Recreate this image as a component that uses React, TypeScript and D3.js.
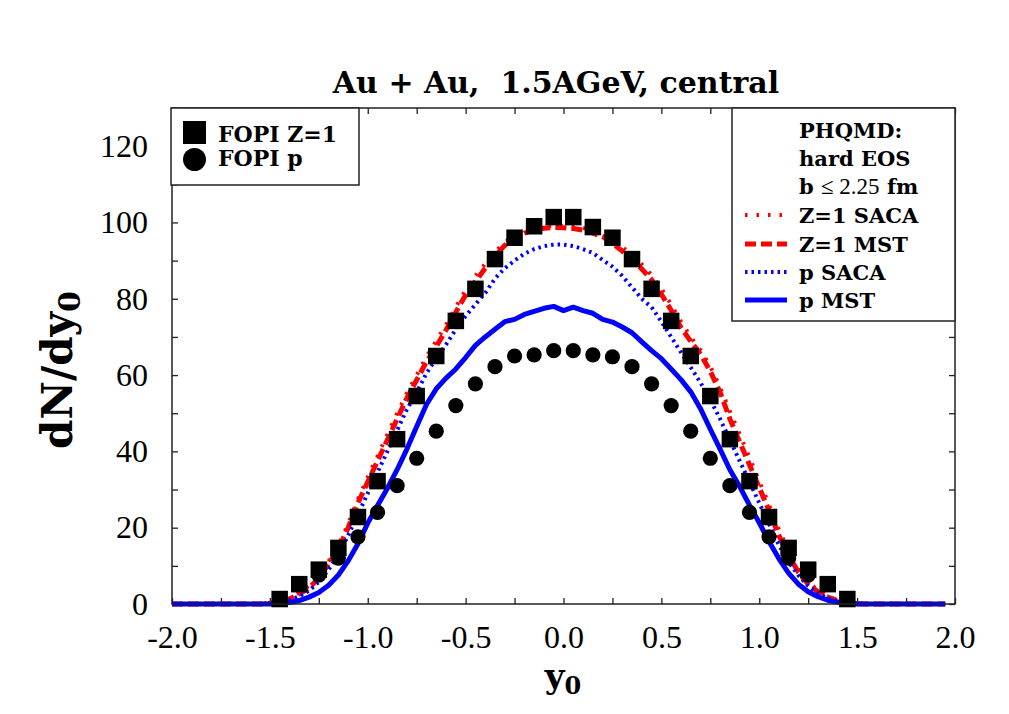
import React, { useEffect, useRef } from 'react';
import * as d3 from 'd3';

// rapidity grid of the PHQMD curves
const curveY0 = [
    -2.0, -1.55, -1.5, -1.45, -1.4, -1.35, -1.3, -1.25, -1.2, -1.15, -1.1, -1.05, -1.0,
    -0.95, -0.9, -0.85, -0.8, -0.75, -0.7, -0.65, -0.6, -0.55, -0.5, -0.45, -0.4, -0.35,
    -0.3, -0.25, -0.2, -0.15, -0.1, -0.05, 0.0, 0.05, 0.1, 0.15, 0.2, 0.25, 0.3, 0.35,
    0.4, 0.45, 0.5, 0.55, 0.6, 0.65, 0.7, 0.75, 0.8, 0.85, 0.9, 0.95, 1.0, 1.05, 1.1,
    1.15, 1.2, 1.25, 1.3, 1.35, 1.4, 1.45, 1.5, 1.55, 1.95
];

const z1Saca = [
    0, 0.1, 0.3, 0.8, 1.6, 3.0, 4.8, 7.5, 11.2, 15.5, 21.0, 27.5, 33.2,
    38.8, 44.5, 50.0, 55.3, 60.0, 64.8, 69.0, 73.2, 77.8, 82.3, 86.0, 89.2, 92.2,
    94.8, 96.5, 97.8, 98.6, 99.0, 99.2, 99.1, 99.0, 98.6, 97.9, 97.0, 95.4, 93.6, 91.4,
    89.0, 86.2, 82.6, 78.5, 74.0, 70.0, 66.5, 62.3, 56.8, 50.5, 44.5, 38.4, 32.2, 26.0, 19.5,
    14.0, 9.2, 5.8, 3.6, 2.0, 1.0, 0.5, 0.2, 0.1, 0
];

const z1Mst = [
    0, 0, 0.2, 0.6, 1.3, 2.6, 4.2, 6.8, 10.5, 14.5, 20.0, 26.5, 32.0,
    37.5, 43.0, 48.5, 54.0, 58.7, 63.5, 67.5, 71.8, 76.5, 81.0, 84.5, 88.0, 91.2,
    94.0, 95.8, 97.2, 98.0, 98.5, 98.7, 98.6, 98.4, 98.0, 97.2, 96.3, 94.5, 92.5, 90.3,
    87.8, 85.0, 81.2, 77.0, 72.5, 68.8, 65.5, 61.0, 55.5, 48.5, 42.5, 36.5, 30.5, 24.5, 18.0,
    12.8, 8.3, 5.2, 3.2, 1.8, 0.9, 0.4, 0.1, 0, 0
];

const pSaca = [
    0, 0, 0.1, 0.4, 1.0, 2.0, 3.5, 5.8, 9.0, 13.0, 18.0, 23.5, 29.0,
    34.5, 40.0, 45.5, 51.0, 55.5, 60.5, 64.3, 68.0, 72.0, 75.5, 78.5, 81.5, 85.3,
    88.0, 90.0, 91.8, 93.0, 93.8, 94.2, 94.2, 93.8, 93.0, 92.0, 90.2, 88.4, 86.0, 83.0,
    80.0, 77.8, 74.0, 70.0, 66.0, 62.0, 58.0, 53.5, 48.5, 43.0, 37.5, 32.0, 26.5, 21.0, 15.5,
    11.0, 7.5, 4.8, 2.8, 1.5, 0.7, 0.3, 0.1, 0, 0
];

const pMst = [
    0, 0, 0, 0.1, 0.4, 0.9, 1.8, 3.0, 4.9, 7.6, 11.3, 15.8, 21.2,
    25.8, 30.3, 35.2, 40.6, 46.5, 52.3, 56.4, 59.2, 61.6, 64.6, 67.8, 70.0, 72.0,
    74.0, 74.6, 75.9, 76.7, 77.5, 78.0, 76.9, 77.8, 76.9, 76.2, 74.6, 73.9, 72.6, 71.1,
    68.7, 66.4, 64.3, 61.6, 58.8, 55.6, 51.2, 45.8, 40.6, 35.2, 30.8, 25.9, 21.3, 16.4, 11.9,
    8.1, 5.2, 3.2, 1.9, 1.0, 0.5, 0.2, 0, 0, 0
];

// FOPI data
const fopiZ1Y0 = [
    -1.45, -1.35, -1.25, -1.15, -1.05, -0.95, -0.85, -0.75, -0.65, -0.55, -0.45, -0.35, -0.25, -0.15, -0.05,
    0.05, 0.15, 0.25, 0.35, 0.45, 0.55, 0.65, 0.75, 0.85, 0.95, 1.05, 1.15, 1.25, 1.35, 1.45
];
const fopiZ1 = [
    1.3, 5.2, 9.0, 14.7, 22.8, 32.2, 43.2, 54.5, 65.0, 74.2, 82.6, 90.4, 96.0, 99.0, 101.4,
    101.4, 98.8, 96.0, 90.4, 82.6, 74.2, 65.0, 54.5, 43.2, 32.2, 22.8, 14.7, 9.0, 5.2, 1.3
];

const fopiPY0 = [
    -1.25, -1.15, -1.05, -0.95, -0.85, -0.75, -0.65, -0.55, -0.45, -0.35, -0.25, -0.15, -0.05,
    0.05, 0.15, 0.25, 0.35, 0.45, 0.55, 0.65, 0.75, 0.85, 0.95, 1.05, 1.15, 1.25
];
const fopiP = [
    7.6, 12.0, 17.6, 24.0, 31.0, 38.2, 45.3, 52.0, 57.7, 62.2, 65.0, 65.3, 66.4,
    66.4, 65.3, 64.8, 62.2, 57.7, 52.0, 45.3, 38.2, 31.0, 24.0, 17.6, 12.0, 7.6
];

const yTickLabels = [0, 20, 40, 60, 80, 100, 120];

const curveStyles = [
    { name: 'Z=1 SACA', values: z1Saca, color: '#ff0000', width: 4, dash: '2.5 9' },
    { name: 'Z=1 MST', values: z1Mst, color: '#ff0000', width: 5, dash: '11 5' },
    { name: 'p SACA', values: pSaca, color: '#0000ff', width: 4, dash: '2.5 4' },
    { name: 'p MST', values: pMst, color: '#0000ff', width: 5, dash: null }
];

const WIDTH = 1009;
const HEIGHT = 714;
const SERIF = "'Liberation Serif', 'DejaVu Serif', serif";
const BOLD = "'DejaVu Serif', serif";

const App = () => {
    const svgRef = useRef<SVGSVGElement>(null);

    useEffect(() => {
        const svg = d3.select(svgRef.current);
        svg.selectAll('*').remove();

        const left = 172, right = 955, top = 108, bottom = 604;

        const x = d3.scaleLinear().domain([-2, 2]).range([left, right]);
        const y = d3.scaleLinear().domain([0, 130]).range([bottom, top]);

        svg.append('rect').attr('width', WIDTH).attr('height', HEIGHT).attr('fill', '#fff');

        // ticks on all four sides, pointing inward
        const xMinor = d3.range(-2, 2.001, 0.25);
        const yMinor = d3.range(0, 130.001, 10);

        const bottomAxis = svg.append('g')
            .attr('transform', `translate(0,${bottom})`)
            .call(d3.axisBottom(x).tickValues(xMinor).tickSize(-6).tickPadding(21)
                .tickFormat((d: any) => (Math.abs((d * 2) % 1) < 1e-9 ? (+d).toFixed(1) : '')));
        svg.append('g')
            .attr('transform', `translate(0,${top})`)
            .call(d3.axisTop(x).tickValues(xMinor).tickSize(-6).tickFormat(() => ''));
        const leftAxis = svg.append('g')
            .attr('transform', `translate(${left},0)`)
            .call(d3.axisLeft(y).tickValues(yMinor).tickSize(-6).tickPadding(24)
                .tickFormat((d: any) => (yTickLabels.includes(+d) ? String(d) : '')));
        svg.append('g')
            .attr('transform', `translate(${right},0)`)
            .call(d3.axisRight(y).tickValues(yMinor).tickSize(-6).tickFormat(() => ''));

        svg.selectAll('.domain').remove();
        svg.selectAll('.tick line').attr('stroke', '#222').attr('stroke-width', 1.3);
        [bottomAxis, leftAxis].forEach(a => a.selectAll('text')
            .style('font-family', SERIF).style('font-size', '32px').attr('fill', '#000'));

        // curves
        const line = d3.line<number>()
            .x((_, i) => x(curveY0[i]))
            .y(d => y(d));

        curveStyles.forEach(c => {
            svg.append('path')
                .datum(c.values)
                .attr('d', line)
                .attr('fill', 'none')
                .attr('stroke', c.color)
                .attr('stroke-width', c.width)
                .attr('stroke-dasharray', c.dash)
                .attr('stroke-linejoin', 'round');
        });

        // FOPI markers
        const sq = 16.5;
        svg.append('g').selectAll('rect')
            .data(fopiZ1)
            .join('rect')
            .attr('x', (_, i) => x(fopiZ1Y0[i]) - sq / 2)
            .attr('y', d => y(d) - sq / 2)
            .attr('width', sq)
            .attr('height', sq)
            .attr('fill', '#000');

        svg.append('g').selectAll('circle')
            .data(fopiP)
            .join('circle')
            .attr('cx', (_, i) => x(fopiPY0[i]))
            .attr('cy', d => y(d))
            .attr('r', 7.6)
            .attr('fill', '#000');

        // frame
        svg.append('rect')
            .attr('x', left).attr('y', top)
            .attr('width', right - left).attr('height', bottom - top)
            .attr('fill', 'none').attr('stroke', '#222').attr('stroke-width', 1.5);

        // left legend
        const lg = svg.append('g');
        lg.append('rect')
            .attr('x', 171).attr('y', top).attr('width', 188).attr('height', 77)
            .attr('fill', '#fff').attr('stroke', '#222').attr('stroke-width', 1.5);
        lg.append('rect').attr('x', 183).attr('y', 121).attr('width', 23).attr('height', 23).attr('fill', '#000');
        lg.append('circle').attr('cx', 194.5).attr('cy', 159.5).attr('r', 11.5).attr('fill', '#000');
        [['FOPI Z=1', 142], ['FOPI p', 166]].forEach(([t, yy]) => {
            lg.append('text')
                .attr('x', 218).attr('y', yy)
                .style('font-family', BOLD).style('font-weight', 'bold').style('font-size', '22px')
                .text(t as string);
        });

        // right legend
        const rg = svg.append('g');
        rg.append('rect')
            .attr('x', 732).attr('y', top).attr('width', right - 732).attr('height', 213)
            .attr('fill', '#fff').attr('stroke', '#222').attr('stroke-width', 1.5);
        const tx = 799;
        const bold = (sel: any) => sel.style('font-family', BOLD).style('font-weight', 'bold').style('font-size', '21px');
        bold(rg.append('text').attr('x', tx).attr('y', 138)).text('PHQMD:');
        bold(rg.append('text').attr('x', tx).attr('y', 166)).text('hard EOS');
        const bt = bold(rg.append('text').attr('x', tx).attr('y', 194));
        bt.append('tspan').text('b ');
        bt.append('tspan').style('font-weight', 'normal').style('font-family', SERIF).style('font-size', '23px').text('≤ 2.25');
        bt.append('tspan').text(' fm');

        const rowY = [215, 244, 272, 300];
        curveStyles.forEach((c, i) => {
            rg.append('line')
                .attr('x1', 745).attr('x2', 787)
                .attr('y1', rowY[i]).attr('y2', rowY[i])
                .attr('stroke', c.color)
                .attr('stroke-width', c.width)
                .attr('stroke-dasharray', c.dash);
            bold(rg.append('text').attr('x', tx).attr('y', rowY[i] + 8)).text(c.name);
        });

        // title and axis labels
        svg.append('text')
            .attr('x', 556).attr('y', 93)
            .attr('text-anchor', 'middle')
            .style('font-family', BOLD).style('font-weight', 'bold').style('font-size', '30px')
            .style('white-space', 'pre')
            .text('Au + Au,  1.5AGeV, central');

        const yl = svg.append('text')
            .attr('transform', 'translate(72,370) rotate(-90)')
            .attr('text-anchor', 'middle')
            .style('font-family', BOLD).style('font-weight', 'bold').style('font-size', '42px');
        yl.append('tspan').text('dN/dy');
        yl.append('tspan').attr('dy', 8).style('font-size', '30px').text('0');

        const xl = svg.append('text')
            .attr('x', 563).attr('y', 688)
            .attr('text-anchor', 'middle')
            .style('font-family', BOLD).style('font-weight', 'bold').style('font-size', '34px');
        xl.append('tspan').text('y');
        xl.append('tspan').attr('dy', 6).style('font-size', '24px').text('0');
    }, []);

    return (
        <svg
            ref={svgRef}
            width={WIDTH}
            height={HEIGHT}
            style={{ position: 'absolute', left: 0, top: 0 }}
        />
    );
};

export default App;
